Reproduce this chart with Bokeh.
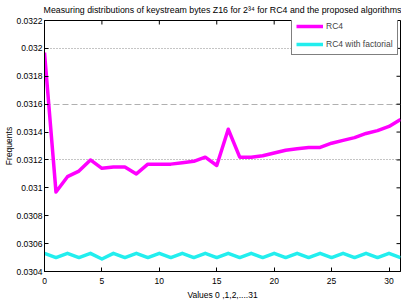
import math
from bokeh.plotting import figure
from bokeh.models import (ColumnDataSource, FixedTicker, Range1d, Grid,
                          Legend, LegendItem, Title, PrintfTickFormatter)
from bokeh.embed import file_html
from bokeh.resources import INLINE

# ---- data ----
x_vals = list(range(32))
rc4 = [0.03197, 0.03097, 0.03108, 0.03112, 0.03120, 0.03114, 0.03115, 0.03115,
       0.03110, 0.03117, 0.03117, 0.03117, 0.03118, 0.03119, 0.03122, 0.03116,
       0.03142, 0.03122, 0.03122, 0.03123, 0.03125, 0.03127, 0.03128, 0.03129,
       0.03129, 0.03132, 0.03134, 0.03136, 0.03139, 0.03141, 0.03144, 0.03149]
rc4_fact = [0.03053, 0.03050, 0.03053, 0.03050, 0.03053, 0.03049, 0.03053, 0.03050,
            0.03053, 0.03050, 0.03053, 0.03050, 0.03053, 0.03050, 0.03053, 0.03050,
            0.03053, 0.03050, 0.03053, 0.03050, 0.03053, 0.03050, 0.03053, 0.03050,
            0.03053, 0.03050, 0.03053, 0.03050, 0.03053, 0.03050, 0.03053, 0.03050]
series_names = ["RC4", "RC4 with factorial"]
x_ticks = [0, 5, 10, 15, 20, 25, 30]
y_ticks = [0.0304, 0.0306, 0.0308, 0.031, 0.0312, 0.0314, 0.0316, 0.0318, 0.032, 0.0322]
grid_ticks_dot = [0.0312, 0.032]
grid_ticks_dash = [0.0316]
title_text = "Measuring distributions of keystream bytes Z16 for 2\u00b3\u2074 for RC4 and the proposed algorithms"
x_label = "Values 0 ,1,2,....31"
y_label = "Frequents"

FONT = "Liberation Sans"
FS = "8.5px"

x_start, x_end = 0, 31
y_start, y_end = 0.0304, 0.0322

src = ColumnDataSource(dict(x=x_vals, rc4=rc4, fact=rc4_fact))

p = figure(width=401, height=302, output_backend="svg", toolbar_location=None,
           x_range=Range1d(x_start, x_end), y_range=Range1d(y_start, y_end),
           min_border_left=43, min_border_right=1, min_border_top=20, min_border_bottom=29,
           background_fill_color="white", border_fill_color="white")
p.title = Title(text=title_text, align="center", vertical_align="top",
                text_font=FONT, text_font_size="8.8px",
                text_font_style="normal", text_color="black", standoff=8)
p.xgrid.visible = False
p.ygrid.visible = False
p.outline_line_color = "black"
p.outline_line_width = 1
p.outline_line_alpha = 1

# extra grids
g1 = Grid(dimension=1, ticker=FixedTicker(ticks=grid_ticks_dot),
          grid_line_color="#8a8a8a", grid_line_dash="1 2", grid_line_width=1)
g2 = Grid(dimension=1, ticker=FixedTicker(ticks=grid_ticks_dash),
          grid_line_color="#b0b0b0", grid_line_dash="6 3", grid_line_width=1)
p.add_layout(g1)
p.add_layout(g2)

def style_axis(ax):
    ax.major_tick_in = 4
    ax.major_tick_out = 0
    ax.minor_tick_line_color = None
    ax.major_tick_line_color = "black"
    ax.axis_line_color = "black"
    ax.major_label_text_font = FONT
    ax.major_label_text_color = "black"
    ax.major_label_text_font_size = FS
    ax.axis_label_text_font = FONT
    ax.axis_label_text_font_size = FS
    ax.axis_label_text_font_style = "normal"
    ax.axis_label_text_color = "black"

xa = p.xaxis[0]
xa.ticker = FixedTicker(ticks=x_ticks)
style_axis(xa)
xa.major_label_standoff = 6
xa.axis_label = x_label
xa.axis_label_standoff = 3

ya = p.yaxis[0]
ya.ticker = FixedTicker(ticks=y_ticks)
ya.formatter = PrintfTickFormatter(format="%g")
style_axis(ya)
ya.major_label_standoff = 2
ya.axis_label = y_label
ya.axis_label_standoff = 0

# inward ticks on the top and right edges of the box (markers clipped by the frame)
p.scatter(x=[x_end] * len(y_ticks), y=y_ticks, marker="dash", size=8,
          line_color="black", line_width=1)
p.scatter(x=x_ticks, y=[y_end] * len(x_ticks), marker="dash", size=8, angle=math.pi / 2,
          line_color="black", line_width=1)

r1 = p.line("x", "rc4", source=src, line_color="#FF00FF", line_width=3.5, line_join="round")
r2 = p.line("x", "fact", source=src, line_color="#22EEEE", line_width=3.5, line_join="round")

legend = Legend(items=[LegendItem(label=series_names[0], renderers=[r1]),
                       LegendItem(label=series_names[1], renderers=[r2])],
                location=(247, 216), margin=0, padding=4, spacing=6,
                glyph_width=27, glyph_height=12, label_standoff=3,
                label_text_font=FONT, label_text_font_size=FS, label_height=12,
                border_line_color="black", border_line_width=1,
                background_fill_color="white", background_fill_alpha=1)
p.add_layout(legend)

open("out.html", "w").write(file_html(p, INLINE))
